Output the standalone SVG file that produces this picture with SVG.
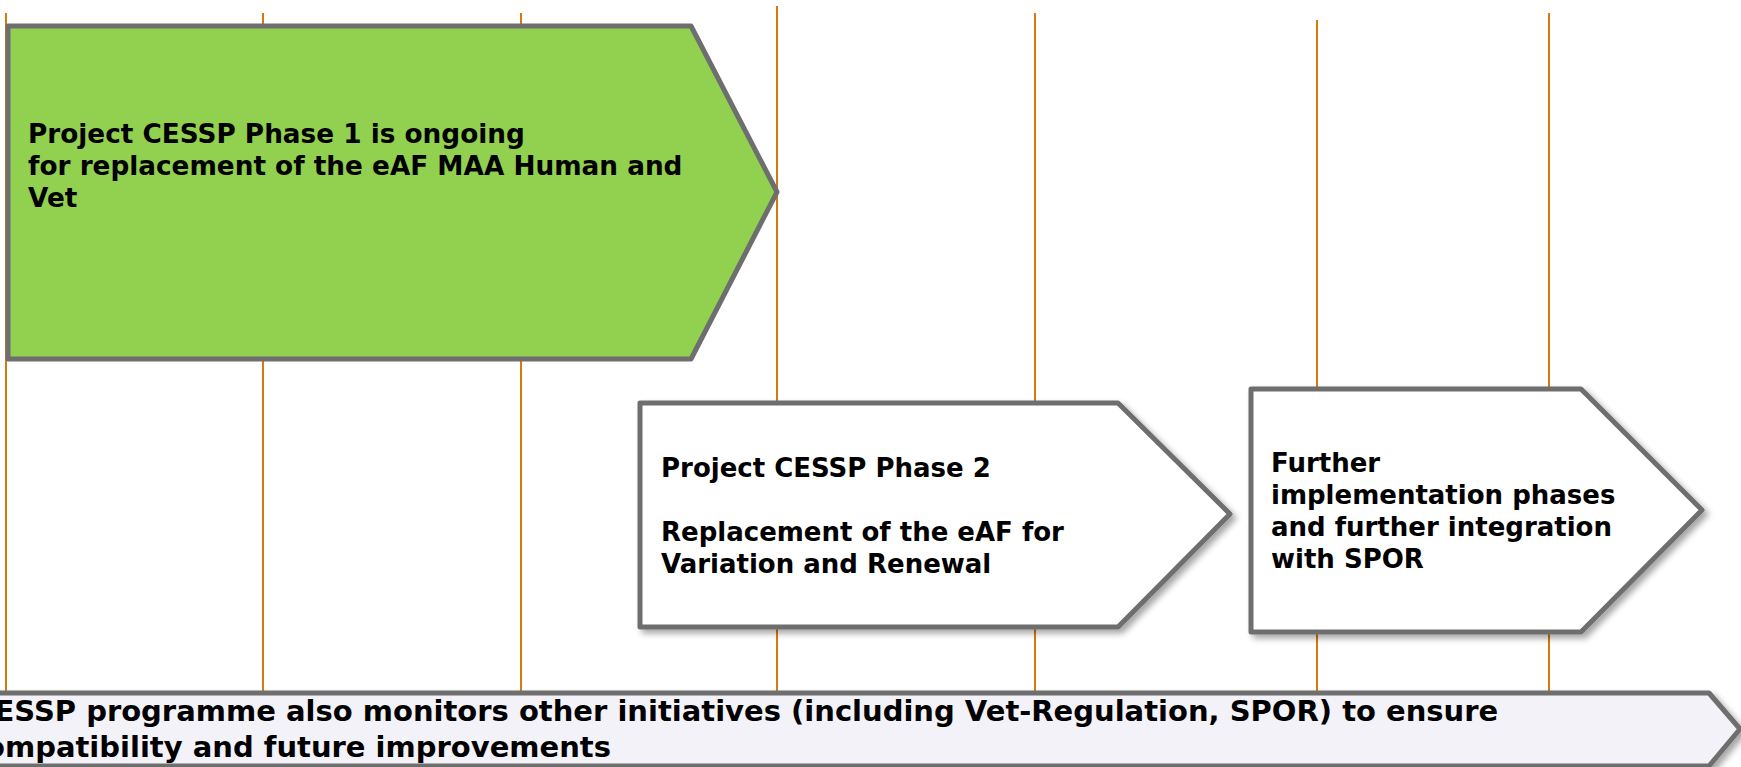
<svg xmlns="http://www.w3.org/2000/svg" width="1741" height="767" viewBox="0 0 1741 767">
<defs>
<filter id="sh" x="-10%" y="-10%" width="125%" height="130%">
<feDropShadow dx="4" dy="4" stdDeviation="3" flood-color="#000" flood-opacity="0.35"/>
</filter>
<style>
.vl{stroke:#d9790c;stroke-width:2;fill:none}
.box{stroke:#6e6e6e;stroke-width:5;stroke-linejoin:round}
.t{font-family:"DejaVu Sans",Verdana,sans-serif;font-weight:bold;font-size:26px;fill:#000}
.g{font-size:26.3px}
.b{font-size:29px}
</style>
</defs>
<rect width="1741" height="767" fill="#fff"/>
<g id="gridlines">
<line class="vl" x1="6" y1="13" x2="6" y2="692"/>
<line class="vl" x1="263" y1="13" x2="263" y2="692"/>
<line class="vl" x1="521" y1="13" x2="521" y2="692"/>
<line class="vl" x1="777" y1="6" x2="777" y2="692"/>
<line class="vl" x1="1035" y1="13" x2="1035" y2="692"/>
<line class="vl" x1="1317" y1="20" x2="1317" y2="692"/>
<line class="vl" x1="1549" y1="13" x2="1549" y2="692"/>
</g>
<g id="phase1">
<path class="box" d="M8,26 L691,26 L777,192 L691,359 L8,359 Z" fill="#92d050"/>
<text class="t g" x="28" y="143">Project CESSP Phase 1 is ongoing</text>
<text class="t g" x="28" y="175">for replacement of the eAF MAA Human and</text>
<text class="t g" x="28" y="207">Vet</text>
</g>
<g id="phase2">
<path class="box" d="M640,403 L1118,403 L1230,514 L1118,627 L640,627 Z" fill="#fff" filter="url(#sh)"/>
<text class="t" x="661" y="477">Project CESSP Phase 2</text>
<text class="t" x="661" y="541">Replacement of the eAF for</text>
<text class="t" x="661" y="573">Variation and Renewal</text>
</g>
<g id="phase3">
<path class="box" d="M1251,389 L1581,389 L1702,510 L1581,632 L1251,632 Z" fill="#fff" filter="url(#sh)"/>
<text class="t" x="1271" y="472">Further</text>
<text class="t" x="1271" y="504">implementation phases</text>
<text class="t" x="1271" y="536">and further integration</text>
<text class="t" x="1271" y="568">with SPOR</text>
</g>
<g id="programme">
<path class="box" d="M-20,693 L1709,693 L1740,729 L1709,766 L-20,766 Z" fill="#f2f2f8" filter="url(#sh)"/>
<text class="t b" x="-5.5" y="721">ESSP programme also monitors other initiatives (including Vet-Regulation, SPOR) to ensure</text>
<text class="t b" x="-15" y="757">ompatibility and future improvements</text>
</g>
<g id="connectors"/>
</svg>
